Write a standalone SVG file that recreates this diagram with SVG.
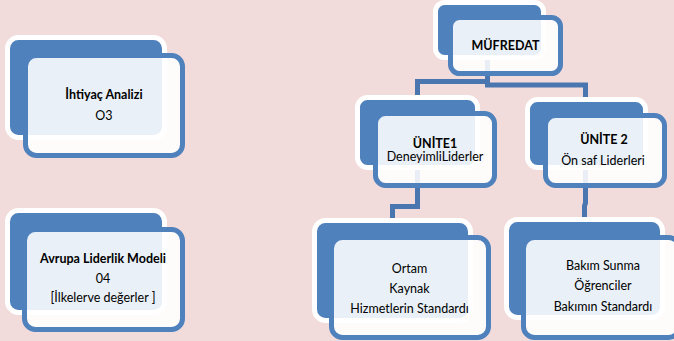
<svg xmlns="http://www.w3.org/2000/svg" width="674" height="341" viewBox="0 0 674 341">
<style>
.bg{fill:#f2dcdb}
.back{fill:#4f81bd;stroke:#ffffff;stroke-width:5}
.front{fill:#ffffff;fill-opacity:0.88;stroke:#4f81bd;stroke-width:5}
.conn{fill:none;stroke:#4a76b0;stroke-width:5;stroke-linejoin:miter}
text{font-family:Lato,"Open Sans","DejaVu Sans",sans-serif;font-size:12.5px;fill:#000;text-anchor:middle}
.b{font-weight:bold}
</style>
<rect class="bg" x="0" y="0" width="674" height="341"/>
<g id="connectors">
<path class="conn" d="M487.5 55 V81.5 H417.5 V102"/>
<path class="conn" d="M487.5 55 V85 H585.5 V104"/>
<path class="conn" d="M417.5 165 V206.5 H392.5 V224"/>
<path class="conn" d="M585.5 165 V203 L584.5 206 V222"/>
</g>
<g id="node-ihtiyac">
<rect class="back" x="7.5" y="37.5" width="157" height="100" rx="11"/>
<rect class="front" x="25.5" y="55.5" width="157" height="100" rx="11"/>
<text class="b" x="104" y="99">İhtiyaç Analizi</text>
<text x="104" y="120">O3</text>
</g>
<g id="node-avrupa">
<rect class="back" x="7.5" y="210.5" width="157" height="102" rx="11"/>
<rect class="front" x="24.5" y="229.5" width="158" height="100" rx="11"/>
<text class="b" x="103" y="262.5">Avrupa Liderlik Modeli</text>
<text x="103" y="282.5">04</text>
<text x="103" y="301.5">[İlkelerve değerler ]</text>
</g>
<g id="node-mufredat">
<rect class="back" x="435.5" y="2.5" width="108" height="55" rx="9"/>
<rect class="front" x="450.5" y="17.5" width="110" height="56" rx="9"/>
<text class="b" x="505.5" y="49.5">MÜFREDAT</text>
</g>
<g id="node-unite1">
<rect class="back" x="357.5" y="97.5" width="120" height="70" rx="10"/>
<rect class="front" x="375.5" y="113.5" width="119" height="72" rx="10"/>
<text class="b" x="435" y="147.5">ÜNİTE1</text>
<text x="435" y="161">DeneyimliLiderler</text>
</g>
<g id="node-unite2">
<rect class="back" x="527.5" y="99.5" width="118" height="68" rx="10"/>
<rect class="front" x="545.5" y="115.5" width="119" height="70" rx="10"/>
<text class="b" x="604" y="144">ÜNİTE 2</text>
<text x="603" y="165">Ön saf Liderleri</text>
</g>
<g id="node-ortam">
<rect class="back" x="314.5" y="220.5" width="156" height="100" rx="11"/>
<rect class="front" x="331.5" y="237.5" width="157" height="100" rx="11"/>
<text x="409.5" y="272.5">Ortam</text>
<text x="409.5" y="292.5">Kaynak</text>
<text x="409.5" y="312.5">Hizmetlerin Standardı</text>
</g>
<g id="node-bakim">
<rect class="back" x="506.5" y="219.5" width="156" height="98" rx="11"/>
<rect class="front" x="523.5" y="237.5" width="156" height="100" rx="11"/>
<text x="603" y="270">Bakım Sunma</text>
<text x="603" y="290">Öğrenciler</text>
<text x="603" y="310.5">Bakımın Standardı</text>
</g>
</svg>
